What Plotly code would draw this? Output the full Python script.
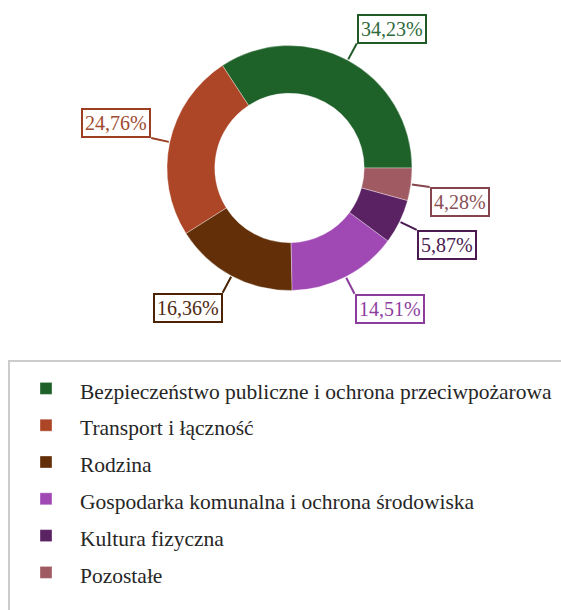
import math
import plotly.graph_objects as go

# ---- data ----
categories = [
    "Bezpieczeństwo publiczne i ochrona przeciwpożarowa",
    "Transport i łączność",
    "Rodzina",
    "Gospodarka komunalna i ochrona środowiska",
    "Kultura fizyczna",
    "Pozostałe",
]
shares = [34.23, 24.76, 16.36, 14.51, 5.87, 4.28]

# ---- styles ----
slice_colors = ["#1e6129", "#ad4527", "#622f08", "#a049b5", "#5a2163", "#a05a62"]
label_text_colors = ["#2e6b3a", "#a04a30", "#4f2a10", "#8e3ea0", "#4a1a50", "#8a4f56"]
label_border_colors = ["#1f5a27", "#9c3e22", "#4c2405", "#8c3d9c", "#4a1a50", "#86454c"]

W, H = 561, 610
cx, cy, R = 289.5, 168.0, 122.5   # pie centre / outer radius in px
hole = 0.61
conn_len = 18
serif = "Times New Roman, Liberation Serif, serif"

total = sum(shares)
first_angle = shares[0] / total * 360.0
rotation = 90.0 - first_angle   # first slice ends at 3 o'clock

legend_labels = [f'<span style="font-size:21.5px">{c}</span>' for c in categories]

fig = go.Figure()
fig.add_trace(go.Pie(
    labels=legend_labels,
    values=shares,
    sort=False,
    direction="counterclockwise",
    rotation=rotation,
    hole=hole,
    marker=dict(colors=slice_colors, line=dict(color="rgba(255,255,255,0.35)", width=1)),
    textinfo="none",
    hoverinfo="percent",
    domain=dict(x=[(cx - R) / W, (cx + R) / W], y=[1 - (cy + R) / H, 1 - (cy - R) / H]),
))

# labels with connectors
annotations = []
cum = 0.0
for v, tc, bc in zip(shares, label_text_colors, label_border_colors):
    mid = (cum + v / 2) / total * 2 * math.pi  # ccw from 3 o'clock
    cum += v
    hx = cx + (R + 1) * math.cos(mid)
    hy = cy - (R + 1) * math.sin(mid)
    ax = conn_len * math.cos(mid)
    ay = -conn_len * math.sin(mid)
    annotations.append(dict(
        x=hx / W, y=1 - hy / H, xref="paper", yref="paper",
        ax=ax, ay=ay, axref="pixel", ayref="pixel",
        showarrow=True, arrowhead=0, arrowwidth=2, arrowcolor=bc,
        text=f"{v:.2f}".replace(".", ",") + "%",
        font=dict(family=serif, size=20, color=tc),
        bgcolor="white", bordercolor=bc, borderwidth=2, borderpad=2,
        xanchor="left" if math.cos(mid) > 0 else "right",
        yanchor="bottom" if math.sin(mid) > 0 else "top",
    ))

# legend frame (runs past the right and bottom edges)
legend_frame = dict(
    type="rect", xref="paper", yref="paper",
    x0=9 / W, x1=1.2, y0=-0.2, y1=1 - 361 / H,
    line=dict(color="#cccccc", width=2), fillcolor="rgba(0,0,0,0)", layer="below",
)

fig.update_layout(
    width=W, height=H,
    margin=dict(l=0, r=0, t=0, b=0, autoexpand=False),
    paper_bgcolor="white",
    plot_bgcolor="white",
    annotations=annotations,
    shapes=[legend_frame],
    showlegend=True,
    legend=dict(
        x=12 / W, y=1 - 365 / H, xanchor="left", yanchor="top",
        bgcolor="rgba(0,0,0,0)", borderwidth=0,
        font=dict(family=serif, size=26, color="#262626"),
        itemwidth=58,
        traceorder="normal",
    ),
)

fig.write_html("out.html")
